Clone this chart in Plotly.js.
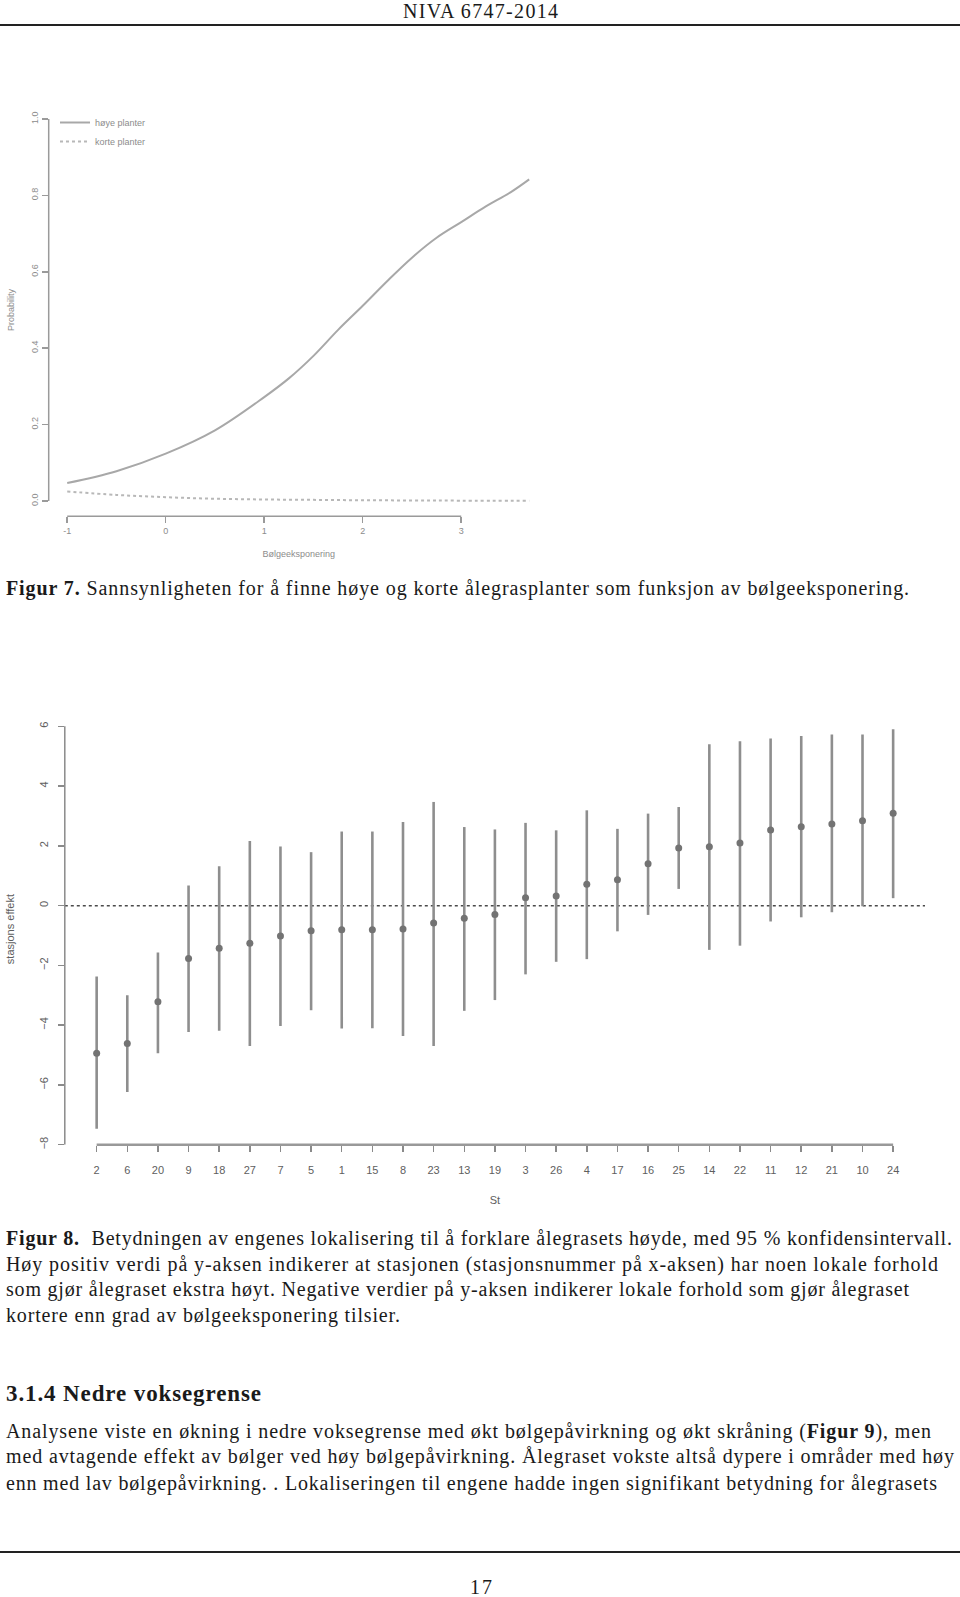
<!DOCTYPE html>
<html>
<head>
<meta charset="utf-8">
<script src="https://cdn.plot.ly/plotly-3.0.1.min.js"></script>
<style>
  html, body { margin: 0; padding: 0; background: #fff; }
  #page { position: relative; width: 960px; height: 1597px; overflow: hidden; background: #fff; }
  #plot { position: absolute; left: 0; top: 0; width: 960px; height: 1597px; }
  .t { position: absolute; white-space: nowrap; font-family: "Liberation Serif", "DejaVu Serif", serif; color: #1a1a1a; font-size: 20px; line-height: 24px; }
  .rule { position: absolute; left: 0; width: 960px; height: 2px; background: #222; }
</style>
</head>
<body>
<div id="page">
  <div id="plot"></div>
  <div class="t" id="hdr" style="top:-1px;left:403px;" data-w="155">NIVA 6747-2014</div>
  <div class="rule" style="top:24px;"></div>

  <div class="t" style="top:576px;left:6px;" data-w="903"><b>Figur 7.</b> Sannsynligheten for å finne høye og korte ålegrasplanter som funksjon av bølgeeksponering.</div>

  <div class="t" style="top:1226px;left:6px;" data-w="946"><b>Figur 8.</b>&nbsp; Betydningen av engenes lokalisering til å forklare ålegrasets høyde, med 95 % konfidensintervall.</div>
  <div class="t" style="top:1252px;left:6px;" data-w="932">Høy positiv verdi på y-aksen indikerer at stasjonen (stasjonsnummer på x-aksen) har noen lokale forhold</div>
  <div class="t" style="top:1277px;left:6px;" data-w="903">som gjør ålegraset ekstra høyt. Negative verdier på y-aksen indikerer lokale forhold som gjør ålegraset</div>
  <div class="t" style="top:1303px;left:6px;" data-w="394">kortere enn grad av bølgeeksponering tilsier.</div>

  <div class="t" style="top:1381px;left:6px;font-size:23px;font-weight:bold;line-height:26px;" data-w="255">3.1.4 Nedre voksegrense</div>

  <div class="t" style="top:1419px;left:6px;" data-w="925">Analysene viste en økning i nedre voksegrense med økt bølgepåvirkning og økt skråning (<b>Figur 9</b>), men</div>
  <div class="t" style="top:1444px;left:6px;" data-w="948">med avtagende effekt av bølger ved høy bølgepåvirkning. Ålegraset vokste altså dypere i områder med høy</div>
  <div class="t" style="top:1471px;left:6px;" data-w="931">enn med lav bølgepåvirkning. . Lokaliseringen til engene hadde ingen signifikant betydning for ålegrasets</div>

  <div class="rule" style="top:1551px;"></div>
  <div class="t" style="top:1575px;left:470px;" data-w="22">17</div>
</div>
<script>
// ---------- Figur 7 data ----------
var bolgeX      = [-1, -0.5, 0, 0.5, 1, 1.25, 1.5, 1.75, 2, 2.25, 2.5, 2.75, 3, 3.25, 3.5, 3.69];
var hoyePlanter = [0.047, 0.078, 0.124, 0.185, 0.272, 0.321, 0.380, 0.448, 0.511, 0.576, 0.637, 0.689, 0.730, 0.771, 0.808, 0.842];
var korteX      = [-1, -0.5, 0, 0.5, 1, 1.5, 2, 2.5, 3, 3.69];
var kortePlanter= [0.025, 0.016, 0.010, 0.006, 0.004, 0.003, 0.002, 0.0015, 0.001, 0.001];
var fig7XTicks  = [-1, 0, 1, 2, 3];
var fig7XText   = ['-1', '0', '1', '2', '3'];
var fig7YTicks  = [0, 0.2, 0.4, 0.6, 0.8, 1.0];
var fig7YText   = ['0.0', '0.2', '0.4', '0.6', '0.8', '1.0'];

// ---------- Figur 8 data ----------
var stasjoner = ['2','6','20','9','18','27','7','5','1','15','8','23','13','19','3','26','4','17','16','25','14','22','11','12','21','10','24'];
var effekt    = [-4.94,-4.61,-3.22,-1.77,-1.43,-1.26,-1.02,-0.84,-0.81,-0.81,-0.78,-0.58,-0.42,-0.30,0.26,0.32,0.72,0.87,1.40,1.93,1.97,2.10,2.53,2.64,2.73,2.84,3.09];
var ovre      = [-2.37,-3.00,-1.57,0.67,1.32,2.16,1.98,1.79,2.48,2.48,2.80,3.47,2.63,2.55,2.77,2.52,3.19,2.57,3.08,3.30,5.40,5.50,5.59,5.68,5.73,5.73,5.90];
var nedre     = [-7.47,-6.24,-4.94,-4.23,-4.19,-4.70,-4.03,-3.50,-4.11,-4.10,-4.36,-4.70,-3.52,-3.16,-2.30,-1.88,-1.79,-0.86,-0.31,0.56,-1.48,-1.34,-0.53,-0.39,-0.22,-0.02,0.25];
var fig8YTicks = [-8, -6, -4, -2, 0, 2, 4, 6];

var pos = stasjoner.map(function(_, i){ return i + 1; });
var errPlus  = ovre.map(function(v, i){ return v - effekt[i]; });
var errMinus = nedre.map(function(v, i){ return effekt[i] - v; });

var H = 1597, W = 960;
function py(p){ return (H - p) / H; }   // pixel-from-top -> paper fraction
function px(p){ return p / W; }

var f7x = [px(48.7), px(548.7)], f7y = [py(516.3), py(103.7)];
var f8x = [px(64.8), px(925)],   f8y = [py(1144.7), py(713.5)];

var c7 = '#9a9a9a', c7t = '#8c8c8c';
var c8a = '#8a8a8a', c8t = '#5e5e5e';

var traces = [
  { x: bolgeX, y: hoyePlanter, type: 'scatter', mode: 'lines', name: 'høye planter',
    line: { color: '#a8a8a8', width: 2, shape: 'spline' }, xaxis: 'x', yaxis: 'y' },
  { x: korteX, y: kortePlanter, type: 'scatter', mode: 'lines', name: 'korte planter',
    line: { color: '#b8b8b8', width: 2, dash: 'dot', shape: 'spline' }, xaxis: 'x', yaxis: 'y' },
  { x: pos, y: effekt, type: 'scatter', mode: 'markers', name: 'stasjons effekt', showlegend: false,
    marker: { color: '#737373', size: 7, symbol: 'circle' },
    error_y: { type: 'data', symmetric: false, array: errPlus, arrayminus: errMinus,
               color: '#8e8e8e', thickness: 2.6, width: 0 },
    xaxis: 'x2', yaxis: 'y2' }
];

var layout = {
  width: W, height: H,
  margin: { l: 0, r: 0, t: 0, b: 0 },
  paper_bgcolor: 'rgba(0,0,0,0)', plot_bgcolor: 'rgba(0,0,0,0)',
  font: { family: 'Liberation Sans, Arial, sans-serif' },
  showlegend: true,
  legend: { x: px(55), y: py(108), xanchor: 'left', yanchor: 'top', bgcolor: 'rgba(0,0,0,0)',
            font: { size: 9, color: c7t }, tracegroupgap: 0, itemwidth: 30 },
  xaxis: { domain: f7x, range: [-1.188, 3.888], tickvals: fig7XTicks, ticktext: fig7XText,
           showline: false, showgrid: false, zeroline: false, ticks: 'outside', ticklen: 6,
           tickcolor: c7, tickwidth: 1.5, tickfont: { size: 9, color: c7t },
           title: { text: 'Bølgeeksponering', font: { size: 9, color: c7t }, standoff: 15 } },
  yaxis: { domain: f7y, range: [-0.04, 1.04], tickvals: fig7YTicks, ticktext: fig7YText, tickangle: -90,
           showline: false, showgrid: false, zeroline: false, ticks: 'outside', ticklen: 6,
           tickcolor: c7, tickwidth: 1.5, tickfont: { size: 9, color: c7t },
           title: { text: 'Probability', font: { size: 9, color: c7t }, standoff: 13 } },
  xaxis2: { domain: f8x, range: [-0.04, 28.04], tickvals: pos, ticktext: stasjoner, tickangle: 0,
            anchor: 'y2', showline: false, showgrid: false, zeroline: false, ticks: 'outside', ticklen: 6,
            ticklabelstandoff: 9,
            tickcolor: c8a, tickwidth: 1.5, tickfont: { size: 11, color: c8t },
            title: { text: 'St', font: { size: 11, color: c8t }, standoff: 21 } },
  yaxis2: { domain: f8y, range: [-8, 6.43], tickvals: fig8YTicks, tickangle: -90, anchor: 'x2',
            showline: false, showgrid: false, zeroline: false, ticks: 'outside', ticklen: 6,
            ticklabelstandoff: 5,
            tickcolor: c8a, tickwidth: 1.5, tickfont: { size: 11, color: c8t },
            title: { text: 'stasjons effekt', font: { size: 11, color: c8t }, standoff: 21 } },
  shapes: [
    { type: 'line', xref: 'x', yref: 'paper', x0: fig7XTicks[0], x1: fig7XTicks[fig7XTicks.length-1],
      y0: f7y[0], y1: f7y[0], line: { color: c7, width: 1.5 } },
    { type: 'line', xref: 'paper', yref: 'y', x0: f7x[0], x1: f7x[0],
      y0: fig7YTicks[0], y1: fig7YTicks[fig7YTicks.length-1], line: { color: c7, width: 1.5 } },
    { type: 'line', xref: 'x2', yref: 'paper', x0: pos[0], x1: pos[pos.length-1],
      y0: f8y[0], y1: f8y[0], line: { color: '#999', width: 2.5 } },
    { type: 'line', xref: 'paper', yref: 'y2', x0: f8x[0], x1: f8x[0],
      y0: fig8YTicks[0], y1: fig8YTicks[fig8YTicks.length-1], line: { color: c8a, width: 1.5 } },
    { type: 'line', xref: 'x2 domain', yref: 'y2', x0: 0, x1: 1, y0: 0, y1: 0, layer: 'below',
      line: { color: '#4a4a4a', width: 1.5, dash: '3px,3px' } }
  ]
};

Plotly.newPlot('plot', traces, layout, { staticPlot: true, displayModeBar: false });

// fit text lines to the measured widths of the reference lines
document.querySelectorAll('.t[data-w]').forEach(function(el){
  var target = parseFloat(el.getAttribute('data-w'));
  var w = el.getBoundingClientRect().width;
  var n = el.textContent.length;
  if (n > 1) el.style.letterSpacing = ((target - w) / (n - 1)).toFixed(3) + 'px';
});
</script>
</body>
</html>
